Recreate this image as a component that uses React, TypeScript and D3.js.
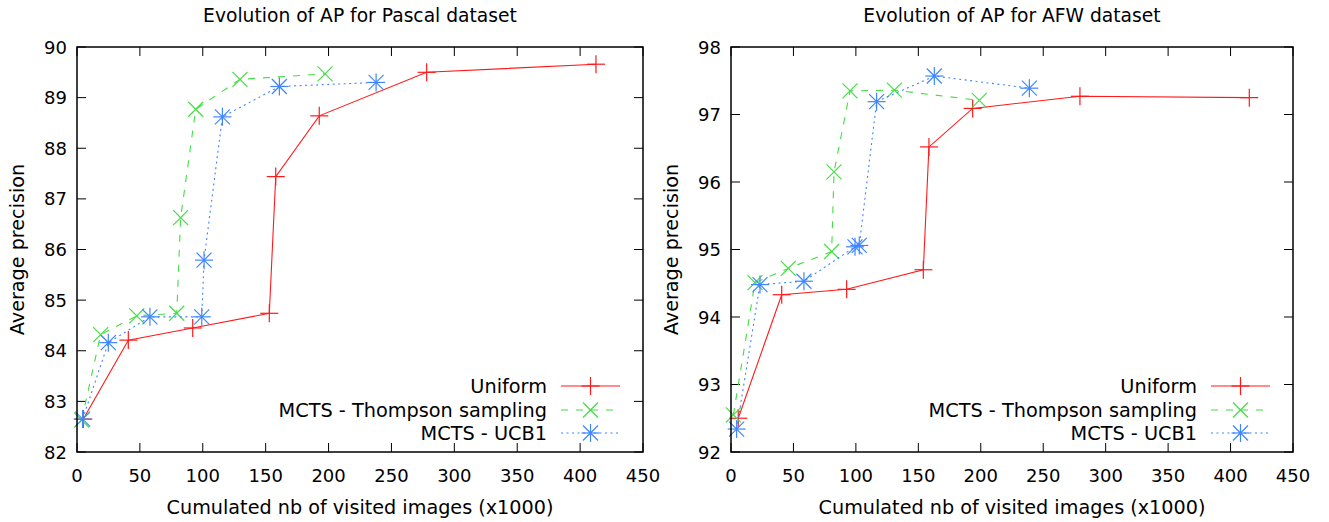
import React from "react";
import * as d3 from "d3";

// Pascal dataset
const pascalUniformX = [5, 40.8, 92, 152.9, 158, 192.6, 278, 412.6];
const pascalUniformY = [82.65, 84.21, 84.45, 84.74, 87.44, 88.64, 89.5, 89.66];
const pascalThompsonX = [3.7, 18.8, 47.5, 79.3, 82.4, 94.4, 129.6, 197.2];
const pascalThompsonY = [82.63, 84.32, 84.69, 84.74, 86.63, 88.77, 89.36, 89.47];
const pascalUcbX = [4.5, 24.9, 58, 99.2, 101, 115.6, 160.9, 237.8];
const pascalUcbY = [82.65, 84.16, 84.67, 84.67, 85.79, 88.62, 89.22, 89.3];

// AFW dataset
const afwUniformX = [5.8, 40.6, 92.6, 154, 158.5, 193.5, 279.4, 415];
const afwUniformY = [92.5, 94.33, 94.41, 94.7, 96.52, 97.09, 97.27, 97.25];
const afwThompsonX = [1.9, 19.2, 45.9, 80.6, 82.5, 95.3, 130.8, 198.8];
const afwThompsonY = [92.55, 94.51, 94.72, 94.97, 96.15, 97.35, 97.36, 97.21];
const afwUcbX = [4.5, 23.2, 58.4, 99.3, 102.7, 116.6, 162.8, 238.9];
const afwUcbY = [92.34, 94.48, 94.53, 95.04, 95.06, 97.19, 97.57, 97.39];

const xTicks = [0, 50, 100, 150, 200, 250, 300, 350, 400, 450];
const pascalYTicks = [82, 83, 84, 85, 86, 87, 88, 89, 90];
const afwYTicks = [92, 93, 94, 95, 96, 97, 98];

const seriesNames = ["Uniform", "MCTS - Thompson sampling", "MCTS - UCB1"];

const COLORS = ["#ff1a1a", "#44dd44", "#3f85ff"];
const DASH = [null, "7,8", "2,3.5"];
const FONT = "'DejaVu Sans', sans-serif";

type Series = { xs: number[]; ys: number[] };

function Marker({ kind, x, y, color }: { kind: number; x: number; y: number; color: string }) {
  const p = 9;
  const s = 7.5;
  if (kind === 0) {
    return (
      <g stroke={color} strokeWidth={1.2}>
        <line x1={x - p} x2={x + p} y1={y} y2={y} />
        <line x1={x} x2={x} y1={y - p} y2={y + p} />
      </g>
    );
  }
  if (kind === 1) {
    return (
      <g stroke={color} strokeWidth={1.2}>
        <line x1={x - s} x2={x + s} y1={y - s} y2={y + s} />
        <line x1={x - s} x2={x + s} y1={y + s} y2={y - s} />
      </g>
    );
  }
  return (
    <g stroke={color} strokeWidth={1.2}>
      <line x1={x - p} x2={x + p} y1={y} y2={y} />
      <line x1={x} x2={x} y1={y - p} y2={y + p} />
      <line x1={x - s} x2={x + s} y1={y - s} y2={y + s} />
      <line x1={x - s} x2={x + s} y1={y + s} y2={y - s} />
    </g>
  );
}

function Panel({
  left, right, top, bottom, yDomain, yTicks, title, series,
}: {
  left: number; right: number; top: number; bottom: number;
  yDomain: [number, number]; yTicks: number[]; title: string; series: Series[];
}) {
  const x = d3.scaleLinear().domain([0, 450]).range([left, right]);
  const y = d3.scaleLinear().domain(yDomain).range([bottom, top]);
  const line = d3.line<[number, number]>().x((d) => x(d[0])).y((d) => y(d[1]));
  const cx = (left + right) / 2;
  const tl = 9;
  const legendTextX = right - 96;
  const legX1 = right - 82;
  const legX2 = right - 23;
  const legRows = [bottom - 66, bottom - 42, bottom - 19];
  return (
    <g>
      <text x={cx} y={22} textAnchor="middle" fontFamily={FONT} fontSize={18.7} fill="#000">
        {title}
      </text>
      {xTicks.map((t) => (
        <g key={"xt" + t}>
          <line x1={x(t)} x2={x(t)} y1={bottom} y2={bottom - tl} stroke="#000" strokeWidth={1} />
          <line x1={x(t)} x2={x(t)} y1={top} y2={top + tl} stroke="#000" strokeWidth={1} />
          <text x={x(t)} y={482} textAnchor="middle" fontFamily={FONT} fontSize={18} fill="#000">
            {t}
          </text>
        </g>
      ))}
      {yTicks.map((t) => (
        <g key={"yt" + t}>
          <line x1={left} x2={left + tl} y1={y(t)} y2={y(t)} stroke="#000" strokeWidth={1} />
          <line x1={right} x2={right - tl} y1={y(t)} y2={y(t)} stroke="#000" strokeWidth={1} />
          <text x={left - 10} y={y(t) + 6.5} textAnchor="end" fontFamily={FONT} fontSize={18} fill="#000">
            {t}
          </text>
        </g>
      ))}
      <text x={cx} y={514} textAnchor="middle" fontFamily={FONT} fontSize={19.2} fill="#000">
        Cumulated nb of visited images (x1000)
      </text>
      <text
        transform={`translate(${left - 53},${(top + bottom) / 2}) rotate(-90)`}
        textAnchor="middle" fontFamily={FONT} fontSize={19.2} fill="#000"
      >
        Average precision
      </text>
      {series.map((s, i) => {
        const pts = s.xs.map((v, k) => [v, s.ys[k]] as [number, number]);
        return (
          <g key={"s" + i}>
            <path d={line(pts) || ""} fill="none" stroke={COLORS[i]} strokeWidth={1.1}
              strokeDasharray={DASH[i] || undefined} />
            {pts.map((p, k) => (
              <Marker key={k} kind={i} x={x(p[0])} y={y(p[1])} color={COLORS[i]} />
            ))}
          </g>
        );
      })}
      {seriesNames.map((n, i) => (
        <g key={"lg" + i}>
          <text x={legendTextX} y={legRows[i] + 7} textAnchor="end" fontFamily={FONT} fontSize={19.3} fill="#000">
            {n}
          </text>
          <line x1={legX1} x2={legX2} y1={legRows[i]} y2={legRows[i]} stroke={COLORS[i]}
            strokeWidth={1.1} strokeDasharray={DASH[i] || undefined} />
          <Marker kind={i} x={(legX1 + legX2) / 2} y={legRows[i]} color={COLORS[i]} />
        </g>
      ))}
      <rect x={left} y={top} width={right - left} height={bottom - top} fill="none" stroke="#000" strokeWidth={1.5} />
    </g>
  );
}

export default function App() {
  return (
    <div style={{ position: "absolute", left: 0, top: 0 }}>
      <svg width={1329} height={522} style={{ display: "block", background: "#fff" }}>
        <Panel
          left={77} right={643} top={47} bottom={452}
          yDomain={[82, 90]} yTicks={pascalYTicks}
          title="Evolution of AP for Pascal dataset"
          series={[
            { xs: pascalUniformX, ys: pascalUniformY },
            { xs: pascalThompsonX, ys: pascalThompsonY },
            { xs: pascalUcbX, ys: pascalUcbY },
          ]}
        />
        <Panel
          left={731} right={1293} top={47} bottom={452}
          yDomain={[92, 98]} yTicks={afwYTicks}
          title="Evolution of AP for AFW dataset"
          series={[
            { xs: afwUniformX, ys: afwUniformY },
            { xs: afwThompsonX, ys: afwThompsonY },
            { xs: afwUcbX, ys: afwUcbY },
          ]}
        />
      </svg>
    </div>
  );
}
